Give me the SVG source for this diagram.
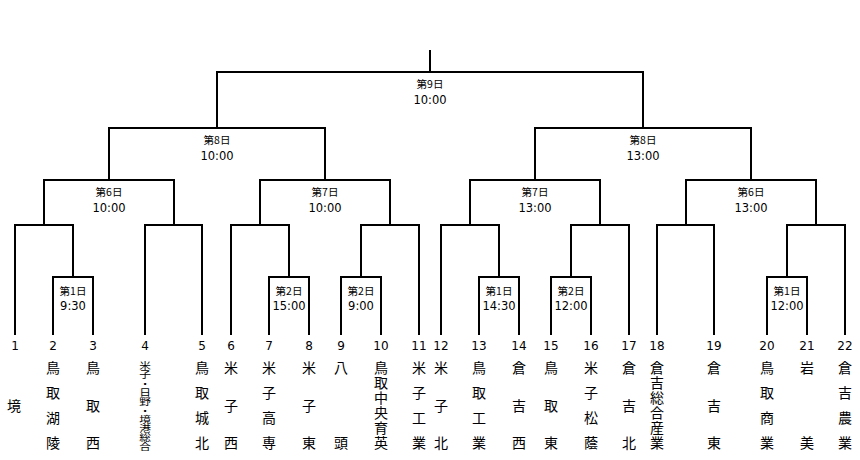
<svg xmlns="http://www.w3.org/2000/svg" width="860" height="460" viewBox="0 0 860 460">
<style>
.ln{fill:none;stroke:#000;stroke-width:2;stroke-linejoin:miter}
.day{font-family:"Noto Sans CJK JP","Noto Sans",sans-serif;font-size:10.5px;text-anchor:middle;fill:#000}
.tm{font-family:"DejaVu Sans",sans-serif;font-size:11.5px;text-anchor:middle;fill:#000}
.num{font-family:"DejaVu Sans",sans-serif;font-size:12px;text-anchor:middle;fill:#000}
.nm{font-family:"Noto Sans CJK JP",sans-serif;font-size:14px;text-anchor:middle;fill:#000}
.vt{font-family:"Noto Sans CJK JP",sans-serif;font-size:14px;fill:#000;writing-mode:vertical-rl;letter-spacing:1px}
.vs{font-family:"Noto Sans CJK JP",sans-serif;font-size:9px;fill:#000;writing-mode:vertical-rl}
</style>
<rect width="860" height="460" fill="#fff"/>
<g id="connectors">
<path class="ln" d="M430 72 V50"/>
<path class="ln" d="M217 128 V72 H643 V128"/>
<path class="ln" d="M109 180 V128 H325 V180"/>
<path class="ln" d="M535 180 V128 H751 V180"/>
<path class="ln" d="M44 225 V180 H174 V225"/>
<path class="ln" d="M260 225 V180 H390 V225"/>
<path class="ln" d="M470 225 V180 H600 V225"/>
<path class="ln" d="M686 225 V180 H816 V225"/>
<path class="ln" d="M15 335 V225 H73 V277"/>
<path class="ln" d="M145 335 V225 H202 V335"/>
<path class="ln" d="M231 335 V225 H289 V277"/>
<path class="ln" d="M361 277 V225 H419 V335"/>
<path class="ln" d="M441 335 V225 H499 V277"/>
<path class="ln" d="M571 277 V225 H629 V335"/>
<path class="ln" d="M657 335 V225 H714 V335"/>
<path class="ln" d="M787 277 V225 H845 V335"/>
<path class="ln" d="M53 335 V277 H93 V335"/>
<path class="ln" d="M269 335 V277 H309 V335"/>
<path class="ln" d="M341 335 V277 H381 V335"/>
<path class="ln" d="M479 335 V277 H519 V335"/>
<path class="ln" d="M551 335 V277 H591 V335"/>
<path class="ln" d="M767 335 V277 H807 V335"/>
</g>
<g id="match-labels">
<g id="m-final"><text class="day" x="430" y="88">第9日</text><text class="tm" x="430" y="104">10:00</text></g>
<g id="m-sf1"><text class="day" x="217" y="144">第8日</text><text class="tm" x="217" y="160">10:00</text></g>
<g id="m-sf2"><text class="day" x="643" y="144">第8日</text><text class="tm" x="643" y="160">13:00</text></g>
<g id="m-qf1"><text class="day" x="109" y="196">第6日</text><text class="tm" x="109" y="212">10:00</text></g>
<g id="m-qf2"><text class="day" x="325" y="196">第7日</text><text class="tm" x="325" y="212">10:00</text></g>
<g id="m-qf3"><text class="day" x="535" y="196">第7日</text><text class="tm" x="535" y="212">13:00</text></g>
<g id="m-qf4"><text class="day" x="751" y="196">第6日</text><text class="tm" x="751" y="212">13:00</text></g>
<g id="m-r1a"><text class="day" x="73" y="295">第1日</text><text class="tm" x="73" y="310">9:30</text></g>
<g id="m-r1b"><text class="day" x="289" y="295">第2日</text><text class="tm" x="289" y="310">15:00</text></g>
<g id="m-r1c"><text class="day" x="361" y="295">第2日</text><text class="tm" x="361" y="310">9:00</text></g>
<g id="m-r1d"><text class="day" x="499" y="295">第1日</text><text class="tm" x="499" y="310">14:30</text></g>
<g id="m-r1e"><text class="day" x="571" y="295">第2日</text><text class="tm" x="571" y="310">12:00</text></g>
<g id="m-r1f"><text class="day" x="787" y="295">第1日</text><text class="tm" x="787" y="310">12:00</text></g>
</g>
<g id="team-1"><text class="num" x="15" y="350">1</text><text class="nm"><tspan x="14" y="410.5">境</tspan></text></g>
<g id="team-2"><text class="num" x="53" y="350">2</text><text class="nm"><tspan x="53" y="373">鳥</tspan><tspan x="53" y="398">取</tspan><tspan x="53" y="423">湖</tspan><tspan x="53" y="448">陵</tspan></text></g>
<g id="team-3"><text class="num" x="93" y="350">3</text><text class="nm"><tspan x="93" y="373">鳥</tspan><tspan x="93" y="410.5">取</tspan><tspan x="93" y="448">西</tspan></text></g>
<g id="team-4"><text class="num" x="145" y="350">4</text><text class="vs" transform="translate(145 361) scale(1.3 1)" x="0" y="0">米子・日野・境港総合</text></g>
<g id="team-5"><text class="num" x="202" y="350">5</text><text class="nm"><tspan x="202" y="373">鳥</tspan><tspan x="202" y="398">取</tspan><tspan x="202" y="423">城</tspan><tspan x="202" y="448">北</tspan></text></g>
<g id="team-6"><text class="num" x="231" y="350">6</text><text class="nm"><tspan x="231" y="373">米</tspan><tspan x="231" y="410.5">子</tspan><tspan x="231" y="448">西</tspan></text></g>
<g id="team-7"><text class="num" x="269" y="350">7</text><text class="nm"><tspan x="269" y="373">米</tspan><tspan x="269" y="398">子</tspan><tspan x="269" y="423">高</tspan><tspan x="269" y="448">専</tspan></text></g>
<g id="team-8"><text class="num" x="309" y="350">8</text><text class="nm"><tspan x="309" y="373">米</tspan><tspan x="309" y="410.5">子</tspan><tspan x="309" y="448">東</tspan></text></g>
<g id="team-9"><text class="num" x="341" y="350">9</text><text class="nm"><tspan x="341" y="373">八</tspan><tspan x="341" y="448">頭</tspan></text></g>
<g id="team-10"><text class="num" x="381" y="350">10</text><text class="vt" x="381" y="361">鳥取中央育英</text></g>
<g id="team-11"><text class="num" x="419" y="350">11</text><text class="nm"><tspan x="419" y="373">米</tspan><tspan x="419" y="398">子</tspan><tspan x="419" y="423">工</tspan><tspan x="419" y="448">業</tspan></text></g>
<g id="team-12"><text class="num" x="441" y="350">12</text><text class="nm"><tspan x="441" y="373">米</tspan><tspan x="441" y="410.5">子</tspan><tspan x="441" y="448">北</tspan></text></g>
<g id="team-13"><text class="num" x="479" y="350">13</text><text class="nm"><tspan x="479" y="373">鳥</tspan><tspan x="479" y="398">取</tspan><tspan x="479" y="423">工</tspan><tspan x="479" y="448">業</tspan></text></g>
<g id="team-14"><text class="num" x="519" y="350">14</text><text class="nm"><tspan x="519" y="373">倉</tspan><tspan x="519" y="410.5">吉</tspan><tspan x="519" y="448">西</tspan></text></g>
<g id="team-15"><text class="num" x="551" y="350">15</text><text class="nm"><tspan x="551" y="373">鳥</tspan><tspan x="551" y="410.5">取</tspan><tspan x="551" y="448">東</tspan></text></g>
<g id="team-16"><text class="num" x="591" y="350">16</text><text class="nm"><tspan x="591" y="373">米</tspan><tspan x="591" y="398">子</tspan><tspan x="591" y="423">松</tspan><tspan x="591" y="448">蔭</tspan></text></g>
<g id="team-17"><text class="num" x="629" y="350">17</text><text class="nm"><tspan x="629" y="373">倉</tspan><tspan x="629" y="410.5">吉</tspan><tspan x="629" y="448">北</tspan></text></g>
<g id="team-18"><text class="num" x="657" y="350">18</text><text class="vt" x="657" y="361">倉吉総合産業</text></g>
<g id="team-19"><text class="num" x="714" y="350">19</text><text class="nm"><tspan x="714" y="373">倉</tspan><tspan x="714" y="410.5">吉</tspan><tspan x="714" y="448">東</tspan></text></g>
<g id="team-20"><text class="num" x="767" y="350">20</text><text class="nm"><tspan x="767" y="373">鳥</tspan><tspan x="767" y="398">取</tspan><tspan x="767" y="423">商</tspan><tspan x="767" y="448">業</tspan></text></g>
<g id="team-21"><text class="num" x="807" y="350">21</text><text class="nm"><tspan x="807" y="373">岩</tspan><tspan x="807" y="448">美</tspan></text></g>
<g id="team-22"><text class="num" x="845" y="350">22</text><text class="nm"><tspan x="845" y="373">倉</tspan><tspan x="845" y="398">吉</tspan><tspan x="845" y="423">農</tspan><tspan x="845" y="448">業</tspan></text></g>
</svg>
